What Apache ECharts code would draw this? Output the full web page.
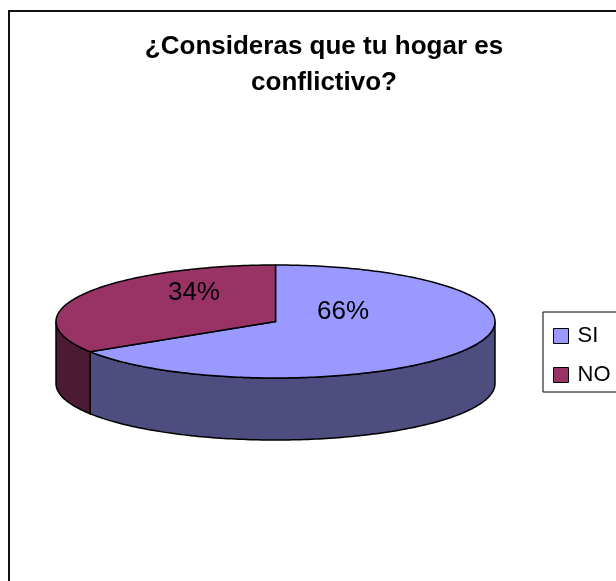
<!DOCTYPE html>
<html><head><meta charset="utf-8">
<script src="https://cdn.jsdelivr.net/npm/echarts@6/dist/echarts.min.js"></script>
<style>html,body{margin:0;padding:0;background:#fff}#c{width:616px;height:581px}</style>
</head><body><div id="c"></div>
<script>
const categories = ['SI', 'NO'];
const values = [66, 34];
const valueLabels = ['66%', '34%'];
const titleText = '¿Consideras que tu hogar es\nconflictivo?';
const topColors = ['#9999FF', '#993366'];
const sideColors = ['#4D4D80', '#4D1A33'];

const CX = 275.5, CY = 321.5, RX = 219.5, RY = 56.5, DEPTH = 62;
const total = values.reduce((a, b) => a + b, 0);
function pt(deg, dy) {
  const r = deg * Math.PI / 180;
  return [CX + RX * Math.sin(r), CY - RY * Math.cos(r) + (dy || 0)];
}

function makeRender(idx) {
  return function (params, api) {
    const v = api.value(0);
    let start = 0;
    for (let i = 0; i < idx; i++) start += values[i];
    const a0 = start / total * 360, a1 = a0 + v / total * 360;
    const children = [];
    const s0 = Math.max(a0, 90), s1 = Math.min(a1, 270);
    if (s1 > s0) {
      const pts = [];
      for (let d = s0; d < s1; d += 1) pts.push(pt(d));
      pts.push(pt(s1));
      for (let d = s1; d > s0; d -= 1) pts.push(pt(d, DEPTH));
      pts.push(pt(s0, DEPTH));
      children.push({ type: 'polygon', shape: { points: pts },
        style: { fill: sideColors[idx], stroke: '#000', lineWidth: 1.5 } });
    }
    const tp = [[CX, CY]];
    for (let d = a0; d < a1; d += 1) tp.push(pt(d));
    tp.push(pt(a1));
    children.push({ type: 'polygon', shape: { points: tp },
      style: { fill: topColors[idx], stroke: '#000', lineWidth: 1.5 } });
    const mid = (a0 + a1) / 2 * Math.PI / 180;
    children.push({ type: 'text', z2: 10, style: {
      text: valueLabels[idx],
      x: CX + RX * 0.3875 * Math.sin(mid) - 7,
      y: CY - RY * 0.35 * Math.cos(mid) - 19,
      align: 'center', verticalAlign: 'middle',
      fontFamily: 'Arial, Liberation Sans, sans-serif', fontSize: 26, fill: '#000'
    } });
    return { type: 'group', children };
  };
}

const chart = echarts.init(document.getElementById('c'), null, { renderer: 'canvas' });
chart.setOption({
  animation: false,
  backgroundColor: '#fff',
  title: {
    text: titleText,
    left: 324, top: 29, padding: 0, textAlign: 'center',
    textStyle: { fontFamily: 'Arial, Liberation Sans, sans-serif', fontWeight: 'bold',
      fontSize: 26, color: '#000', lineHeight: 36 }
  },
  legend: {
    orient: 'vertical', left: 543, top: 312,
    padding: [13, 40, 6, 10],
    borderColor: '#000', borderWidth: 1,
    icon: 'rect', itemWidth: 15, itemHeight: 15, itemGap: 17,
    textStyle: { fontFamily: 'Arial, Liberation Sans, sans-serif', fontSize: 22, color: '#000', padding: [0, 0, 0, 4] },
    itemStyle: { borderColor: '#000', borderWidth: 1 },
    data: categories.map((c, i) => ({ name: c, itemStyle: { color: topColors[i], borderColor: '#000', borderWidth: 1 } }))
  },
  graphic: [{ type: 'rect', shape: { x: 9, y: 11, width: 700, height: 700 },
    style: { fill: 'none', stroke: '#111', lineWidth: 2 }, z: -1 }],
  series: categories.map((c, i) => ({
    type: 'custom', name: c, coordinateSystem: 'none',
    itemStyle: { color: topColors[i] },
    data: [[values[i]]],
    renderItem: makeRender(i)
  }))
});
</script></body></html>
